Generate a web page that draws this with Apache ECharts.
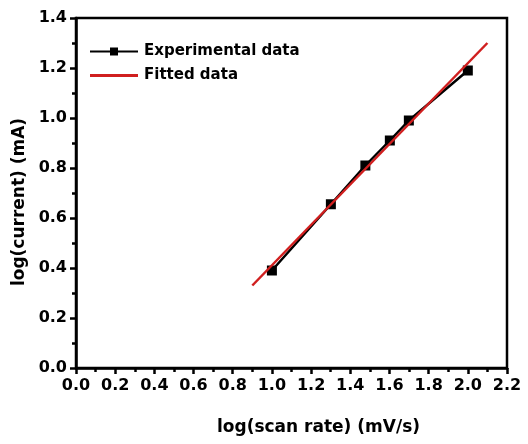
<!DOCTYPE html>
<html><head><meta charset="utf-8">
<script src="https://cdn.jsdelivr.net/npm/echarts@6/dist/echarts.min.js"></script>
<style>html,body{margin:0;padding:0;background:#fff}#c{width:528px;height:444px}</style>
</head><body><div id="c"></div>
<script>
const expX = [1.0, 1.301, 1.477, 1.602, 1.699, 2.0];
const expY = [0.39, 0.655, 0.81, 0.91, 0.99, 1.19];
const fitX = [0.9, 2.1];
const fitY = [0.33, 1.30];
const xTicks = {min: 0, max: 2.2, interval: 0.2};
const yTicks = {min: 0, max: 1.4, interval: 0.2};
const names = ['Experimental data', 'Fitted data'];

const font = 'DejaVu Sans, Arial, sans-serif';
const red = '#d01f1f';
const chart = echarts.init(document.getElementById('c'));
const axisCommon = {
  axisLine: {show: true, onZero: false, lineStyle: {color: '#000', width: 2.5}},
  axisTick: {show: true, inside: false, length: 6, lineStyle: {color: '#000', width: 2.5}},
  minorTick: {show: true, splitNumber: 2, length: 4, lineStyle: {color: '#000', width: 2.5}},
  splitLine: {show: false},
  axisLabel: {color: '#000', fontFamily: font, fontWeight: 'bold', fontSize: 16,
    formatter: v => v.toFixed(1)}
};
chart.setOption({
  animation: false,
  grid: {left: 76, right: 21, top: 18, bottom: 76, show: true, borderColor: '#000', borderWidth: 2.5},
  legend: {
    orient: 'vertical', left: 84, top: 39, itemGap: 9, itemWidth: 48, itemHeight: 10,
    textStyle: {color: '#000', fontFamily: font, fontWeight: 'bold', fontSize: 15, padding: [0, 0, 0, 1]},
    data: [{name: names[0]}, {name: names[1], icon: 'path://M0,0 L48,0 L48,3 L0,3 Z'}]
  },
  xAxis: Object.assign({}, axisCommon, {
    type: 'value', min: xTicks.min, max: xTicks.max, interval: xTicks.interval,
    name: 'log(scan rate) (mV/s)', nameLocation: 'middle', nameGap: 51,
    nameTextStyle: {color: '#000', fontFamily: font, fontWeight: 'bold', fontSize: 17, padding: [0, 0, 0, 54]},
    axisLabel: Object.assign({}, axisCommon.axisLabel, {margin: 10})
  }),
  yAxis: Object.assign({}, axisCommon, {
    type: 'value', min: yTicks.min, max: yTicks.max, interval: yTicks.interval,
    name: 'log(current) (mA)', nameLocation: 'middle', nameGap: 43,
    nameTextStyle: {color: '#000', fontFamily: font, fontWeight: 'bold', fontSize: 17, padding: [0, 18, 0, 0]},
    axisLabel: Object.assign({}, axisCommon.axisLabel, {margin: 9})
  }),
  series: [
    {name: names[0], type: 'line', data: expX.map((x, i) => [x, expY[i]]),
     symbol: 'rect', symbolSize: 10, lineStyle: {color: '#000', width: 2.5},
     itemStyle: {color: '#000'}, z: 2},
    {name: names[1], type: 'line', data: fitX.map((x, i) => [x, fitY[i]]),
     symbol: 'none', lineStyle: {color: red, width: 2.5},
     itemStyle: {color: red}, z: 3}
  ]
});
</script></body></html>
